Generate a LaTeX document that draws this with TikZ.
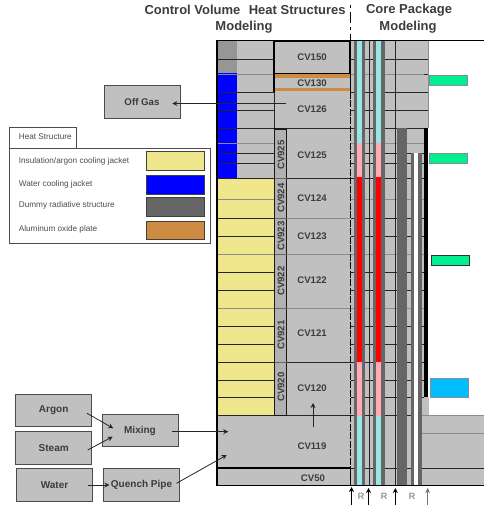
\documentclass[tikz,border=0pt]{standalone}
\usepackage{fontspec}
\setmainfont{Liberation Sans}
\usetikzlibrary{arrows.meta,positioning}
\definecolor{panelgray}{RGB}{192,192,192}
\definecolor{slategray}{RGB}{102,102,102}
\definecolor{topgray}{RGB}{150,150,150}
\definecolor{jacketyellow}{RGB}{240,230,140}
\definecolor{jacketblue}{RGB}{0,0,255}
\definecolor{oxideorange}{RGB}{205,140,65}
\definecolor{coolcyan}{RGB}{150,230,230}
\definecolor{fuelpink}{RGB}{255,170,180}
\definecolor{mintgreen}{RGB}{0,240,145}
\definecolor{skyblue}{RGB}{0,190,255}
\definecolor{inkgray}{RGB}{60,60,60}
\tikzset{
  unit/.style={
    draw=black!70,
    fill=panelgray,
    line width=.7pt,
    minimum width=76pt,
    minimum height=32.5pt,
    inner sep=0pt,
    text=inkgray,
    font=\fontsize{10}{12}\selectfont\bfseries
  },
  cvlabel/.style={
    inner sep=0pt,
    text=inkgray,
    font=\fontsize{9.6}{11}\selectfont\bfseries
  },
  heading/.style={
    inner sep=0pt,
    text=inkgray,
    font=\fontsize{13}{15}\selectfont\bfseries
  },
  legendtext/.style={
    inner sep=0pt,
    anchor=west,
    text=black!70,
    font=\fontsize{8.2}{10}\selectfont
  },
  swatch/.style={
    draw=black!75,
    line width=.7pt,
    minimum width=57.5pt,
    minimum height=18.7pt,
    inner sep=0pt
  },
  marker/.style={
    draw=black!45,
    line width=.6pt,
    minimum width=38pt,
    minimum height=10pt,
    inner sep=0pt
  },
  rlabel/.style={
    inner sep=0pt,
    text=black!60,
    font=\fontsize{9}{11}\selectfont
  },
  arrow/.style={
    -{Stealth[length=5pt,width=5pt]},
    line width=.8pt,
    black!85
  },
  grid/.style={black!85,line width=.7pt},
  faint/.style={black!45,line width=.7pt},
  wall/.style={black,line width=1.4pt}
}
\begin{document}
\begin{tikzpicture}[x=1pt,y=-1pt]
\useasboundingbox (0,0) rectangle (484,505);
% volumes
\fill[panelgray] (217,41) rectangle (350.5,485);
\fill[panelgray] (350.5,41) rectangle (428.3,128);
\fill[panelgray] (350.5,128) rectangle (424.3,485);
\fill[panelgray] (424.3,397) rectangle (429,415.5);
\fill[panelgray] (421.7,415.5) rectangle (484,485);
% heat structures on the left
\fill[topgray] (217,41) rectangle (236.5,73.5);
\fill[jacketblue] (217,73.5) rectangle (236.5,178);
\fill[jacketyellow] (217,178) rectangle (274,415.5);
% level lines
\foreach \y in {59.5,92,110,153,163,178,218,236,272,290,326,344,362,380,397}{
  \draw[grid] (217,\y) -- (274,\y);
  \draw[grid] (350.5,\y) -- (424.3,\y);
}
\foreach \y in {74,143,199,254,308}{
  \draw[faint] (217,\y) -- (274,\y);
  \draw[faint] (350.5,\y) -- (424.3,\y);
}
\foreach \y in {59.5,74,92,110}
  \draw[grid] (424,\y) -- (428.3,\y);
\draw[faint] (421.7,433) -- (484,433);
\draw[faint] (274,218) -- (350,218);
\draw[faint] (274,254) -- (350,254);
\draw[faint] (274,308) -- (350,308);
\draw[grid] (274,362) -- (350,362);
\draw[grid] (274,178) -- (350,178);
\draw[grid] (217,128) -- (424.3,128);
\draw[grid] (217,415.5) -- (414.3,415.5);
\draw[faint] (418.3,415.5) -- (484,415.5);
\draw[grid] (350.5,468) -- (414.3,468);
\draw[grid] (418.3,468) -- (484,468);
% core
\foreach \x in {364.7,369.3,373.3,395.3}
  \draw[black!85,line width=.7pt] (\x,41) -- (\x,485);
\foreach \xa/\xb in {354.3/364.7,373.3/384.7}{
  \fill[slategray] (\xa,41) rectangle (\xb,485);
}
\foreach \xa/\xb in {357.3/362,376/381.3}{
  \fill[coolcyan] (\xa,41) rectangle (\xb,143.5);
  \fill[fuelpink] (\xa,143.5) rectangle (\xb,177);
  \fill[red] (\xa,177) rectangle (\xb,362);
  \fill[fuelpink] (\xa,362) rectangle (\xb,415.5);
  \fill[coolcyan] (\xa,415.5) rectangle (\xb,485);
}
\fill[slategray] (397.3,128) rectangle (407.3,485);
\fill[slategray] (411,153) rectangle (414.3,485);
\fill[white] (414.3,153) rectangle (418.3,485);
\fill[slategray] (418.3,153) rectangle (421.7,485);
\fill[black] (424.3,128) rectangle (427.7,397);
\draw[faint] (428.3,41) -- (428.3,128);
% walls
\draw[wall] (217,40.5) -- (484,40.5);
\draw[wall] (217,40.5) -- (217,485.5);
\draw[black,line width=1.6pt] (217,485.5) -- (484,485.5);
\draw[wall] (274,41) -- (274,92);
\draw[wall] (274,41) rectangle (350,73.5);
\draw[black!85,line width=.7pt] (274,92) -- (274,415.5);
\draw[wall] (217,468) rectangle (350.5,485.5);
\fill[oxideorange] (274.7,74.2) rectangle (350,77.6);
\fill[oxideorange] (274.7,88) rectangle (350,91.4);
\fill[panelgray!92!black] (275,129) rectangle (286.7,415);
\draw[black!90,line width=1.2pt] (274.5,129) -- (286.7,129) -- (286.7,415.5) -- (274.5,415.5) -- cycle;
\foreach \y in {178,218,254,308,362}
  \draw[black!60,line width=.7pt] (274.5,\y) -- (286.7,\y);
\draw[black,line width=1.5pt,dash pattern=on 3pt off 4pt on 11pt off 4pt] (350.5,5) -- (350.5,40);
\draw[black,line width=1.5pt] (350.5,40) -- (350.5,92);
\draw[black,line width=1.5pt,dash pattern=on 7pt off 1.5pt] (350.5,92) -- (350.5,485);
% volume labels
\node[cvlabel] (cv150) at (312,57) {CV150};
\node[cvlabel] (cv130) at (312,83) {CV130};
\node[cvlabel] (cv126) at (312,109) {CV126};
\node[cvlabel] (cv125) at (312,155) {CV125};
\node[cvlabel] (cv124) at (312,198) {CV124};
\node[cvlabel] (cv123) at (312,236) {CV123};
\node[cvlabel] (cv122) at (312,280) {CV122};
\node[cvlabel] (cv121) at (312,333) {CV121};
\node[cvlabel] (cv120) at (312,388) {CV120};
\node[cvlabel] (cv119) at (312,446) {CV119};
\node[cvlabel] (cv50) at (313,478) {CV50};
\foreach \name/\y in {925/155,924/198,923/236,922/281,921/335,920/387}
  \node[cvlabel,rotate=90] (cv\name) at (281,\y) {CV\name};
% headings
\node[heading] (control) at (192.5,10) {Control Volume};
\node[heading,right=8pt of control] (heat) {Heat Structures};
\node[heading] (modelleft) at (244,27) {Modeling};
\node[heading] (core) at (409,10) {Core Package};
\node[heading] (modelright) at (408,27) {Modeling};
% boundary units
\node[unit] (offgas) at (142,102) {\fontsize{9.7}{12}\selectfont Off Gas};
\node[unit] (argon) at (53.7,410.3) {Argon};
\node[unit] (steam) at (53.7,447.8) {Steam};
\node[unit] (water) at (54.5,484.7) {Water};
\node[unit] (mixing) at (140,430.5) {Mixing};
\node[unit] (quench) at (141.5,484.7) {Quench Pipe};
% legend
\draw[black!70,line width=.7pt,fill=white] (9,127.3) rectangle (76.7,148.3);
\node[legendtext] (title) at (18.7,136.5) {Heat Structure};
\node[draw=black!70,line width=.7pt,fill=white,minimum width=201.7pt,minimum height=95pt,inner sep=0pt] (legend) at (109.85,195.8) {};
\node[swatch,fill=jacketyellow] (sw1) at (175.3,160.6) {};
\node[swatch,fill=jacketblue] (sw2) at (175.3,184.6) {};
\node[swatch,fill=slategray] (sw3) at (175.3,206.5) {};
\node[swatch,fill=oxideorange] (sw4) at (175.3,230.3) {};
\node[legendtext] (lab1) at (18.7,161) {Insulation/argon cooling jacket};
\node[legendtext] (lab2) at (18.7,184) {Water cooling jacket};
\node[legendtext] (lab3) at (18.7,205) {Dummy radiative structure};
\node[legendtext] (lab4) at (18.7,229) {Aluminum oxide plate};
% markers
\node[marker,fill=mintgreen] (m1) at (448.5,80) {};
\node[marker,fill=mintgreen] (m2) at (448.5,158.3) {};
\node[marker,fill=mintgreen,draw=black!80] (m3) at (450,260.3) {};
\node[marker,fill=skyblue,minimum height=18.7pt] (m4) at (449.3,388) {};
% connectors
\coordinate (gasfrom) at (286,103.5);
\coordinate (mixinlet) at (228.3,431.7);
\coordinate (quenchinlet) at (226.7,455);
\coordinate (riseto) at (313,403);
\coordinate (risefrom) at (313,427);
\draw[arrow] (gasfrom) -- ([xshift=-8pt,yshift=-1.5pt]offgas.east);
\draw[arrow] ([xshift=-5pt,yshift=-3pt]argon.east) -- ([xshift=11.6pt,yshift=2.2pt]mixing.west);
\draw[arrow] ([xshift=-4.4pt,yshift=-2.2pt]steam.east) -- ([xshift=11pt,yshift=-6.2pt]mixing.west);
\draw[arrow] ([xshift=-5pt,yshift=-.3pt]water.east) -- ([xshift=6.3pt,yshift=-.3pt]quench.west);
\draw[arrow] ([xshift=-6.6pt,yshift=-1.2pt]mixing.east) -- (mixinlet);
\draw[arrow] ([xshift=-3.3pt,yshift=1.4pt]quench.east) -- (quenchinlet);
\draw[arrow] (risefrom) -- (riseto);
% bottom arrows
\coordinate (flowa) at (351.5,505);
\coordinate (flowb) at (368.5,505);
\coordinate (flowc) at (395.3,505);
\coordinate (flowd) at (427.7,505);
\draw[arrow,black,line width=1.2pt] (flowa) -- (351.5,487);
\draw[arrow,black,line width=1pt] (flowb) -- (368.5,488);
\draw[arrow,black,line width=1pt] (flowc) -- (395.3,488);
\draw[arrow,black!55] (flowd) -- (427.7,488);
\node[rlabel] (r1) at (361,496) {R};
\node[rlabel] (r2) at (384,496) {R};
\node[rlabel] (r3) at (412,496) {R};
\end{tikzpicture}
\end{document}
